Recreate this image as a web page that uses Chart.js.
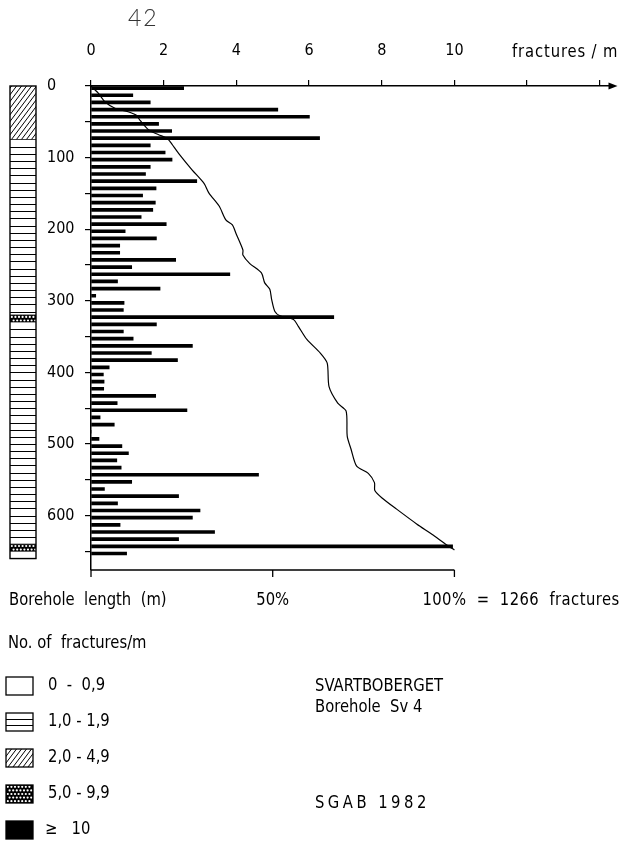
<!DOCTYPE html>
<html>
<head>
<meta charset="utf-8">
<title>Svartboberget Borehole Sv 4</title>
<script src="https://cdn.jsdelivr.net/npm/chart.js@4.4.0/dist/chart.umd.min.js"></script>
<style>
    html, body { margin: 0; padding: 0; background: #fff; }
    #wrap { width: 630px; height: 846px; }
</style>
</head>
<body>
<div id="wrap"><canvas id="FractureChart" width="630" height="846"></canvas></div>
<script>
// borehole length (m), middle of each 10 m section
const depthMid = [5, 15, 25, 35, 45, 55, 65, 75, 85, 95,
    105, 115, 125, 135, 145, 155, 165, 175, 185, 195,
    205, 215, 225, 235, 245, 255, 265, 275, 285, 295,
    305, 315, 325, 335, 345, 355, 365, 375, 385, 395,
    405, 415, 425, 435, 445, 455, 465, 475, 485, 495,
    505, 515, 525, 535, 545, 555, 565, 575, 585, 595,
    605, 615, 625, 635, 645, 655];

// fractures / m in each section
const fracPerM = [2.55, 1.15, 1.63, 5.14, 6.01, 1.86, 2.22, 6.29, 1.63, 2.04,
    2.23, 1.63, 1.50, 2.91, 1.79, 1.42, 1.77, 1.70, 1.38, 2.07,
    0.94, 1.80, 0.79, 0.79, 2.33, 1.12, 3.82, 0.73, 1.90, 0.13,
    0.91, 0.89, 6.68, 1.80, 0.89, 1.16, 2.79, 1.66, 2.38, 0.50,
    0.34, 0.36, 0.35, 1.78, 0.72, 2.64, 0.25, 0.64, 0.00, 0.22,
    0.85, 1.03, 0.71, 0.83, 4.61, 1.12, 0.37, 2.41, 0.73, 3.00,
    2.79, 0.80, 3.40, 2.41, 9.95, 0.98];

// cumulative curve
const cumDepth = [0, 10, 22, 31, 36, 41, 48, 61, 68, 73, 78, 94, 117, 136, 150, 168, 187, 194, 206,
    229, 236, 248, 261, 275, 284, 298, 315, 321, 326, 336, 354, 373, 387, 420, 443, 454, 489,
    508, 531, 541, 554, 565, 575, 591, 612, 626, 641, 648];
const cumPercent = [0, 2.0, 3.8, 6.6, 10.2, 12.5, 13.5, 15.8, 18.6, 20.9, 21.8, 24.1, 27.8, 31.1, 32.5, 35.3, 37.1, 38.9, 39.9,
    41.8, 41.8, 43.7, 46.9, 47.8, 49.2, 49.7, 50.6, 52.0, 55.7, 57.1, 59.4, 63.1, 65.0, 65.5, 67.9, 70.2, 70.5,
    71.6, 73.1, 76.3, 78.0, 78.1, 80.0, 84.1, 89.7, 93.8, 97.9, 100];

// core log column: class 0..4 = 0-0,9 / 1,0-1,9 / 2,0-4,9 / 5,0-9,9 / >=10
const logTop = [0, 75, 320, 330, 640, 650];
const logBottom = [75, 320, 330, 640, 650, 660];
const logClass = [2, 1, 3, 1, 3, 1];

const legendLabels = ['0  -  0,9', '1,0 - 1,9', '2,0 - 4,9', '5,0 - 9,9', '\u2265   10'];
const pctTicks = [0, 50, 100];
const totalFractures = 1266;
const X_MAX = 14.35;

const FONT = '"DejaVu Sans", sans-serif';
const TICK_FONT = '"Liberation Sans Narrow", "DejaVu Sans Condensed", "DejaVu Sans", sans-serif';

function txt(ctx, s, x, y, opt) {
    opt = opt || {};
    ctx.save();
    ctx.font = opt.font || ('17px ' + FONT);
    ctx.fillStyle = opt.color || '#000';
    ctx.textBaseline = 'middle';
    ctx.textAlign = 'left';
    if ('letterSpacing' in ctx) ctx.letterSpacing = (opt.spacing || 0) + 'px';
    const sx = opt.sx || 0.87;
    const w = ctx.measureText(s).width * sx;
    let left = x;
    if (opt.align === 'center') left = x - w / 2;
    if (opt.align === 'right') left = x - w;
    ctx.translate(left, y);
    ctx.scale(sx, 1);
    ctx.fillText(s, 0, 0);
    ctx.restore();
}

function fillClass(ctx, cls, x, y, w, h, stripeYs) {
    ctx.save();
    ctx.beginPath();
    ctx.rect(x, y, w, h);
    ctx.clip();
    ctx.fillStyle = cls >= 3 ? '#000' : '#fff';
    ctx.fillRect(x, y, w, h);
    ctx.strokeStyle = '#000';
    ctx.lineWidth = 1;
    if (cls === 1) {
        ctx.beginPath();
        stripeYs.forEach(yy => { ctx.moveTo(x, yy); ctx.lineTo(x + w, yy); });
        ctx.stroke();
    }
    if (cls === 2) {
        ctx.beginPath();
        for (let k = -h; k < w + h; k += 5) {
            ctx.moveTo(x + k, y + h);
            ctx.lineTo(x + k + h * 0.75, y);
        }
        ctx.stroke();
    }
    if (cls === 3) {
        ctx.fillStyle = '#fff';
        let r = 0;
        for (let yy = y + 1.8; yy < y + h; yy += 3.6, r++) {
            for (let xx = x + (r % 2 ? 3.6 : 1.8); xx < x + w; xx += 3.6) {
                ctx.beginPath();
                ctx.arc(xx, yy, 1.1, 0, Math.PI * 2);
                ctx.fill();
            }
        }
    }
    ctx.restore();
}

const extrasPlugin = {
    id: 'extras',
    afterDraw(chart) {
        const ctx = chart.ctx;
        const ca = chart.chartArea;
        const ys = chart.scales.y;
        const x2 = chart.scales.x2;

        // arrow on the fractures axis
        ctx.save();
        ctx.fillStyle = '#000';
        ctx.beginPath();
        ctx.moveTo(ca.right + 5, ca.top);
        ctx.lineTo(ca.right - 4, ca.top - 3.5);
        ctx.lineTo(ca.right - 4, ca.top + 3.5);
        ctx.closePath();
        ctx.fill();
        ctx.restore();

        txt(ctx, 'fractures / m', 512, 53, { spacing: 1 });
        txt(ctx, '42', 128, 19, { font: '300 23px Lato, ' + FONT, color: '#333', sx: 1, spacing: 2 });

        // core log column
        const lx = 10, lw = 26;
        ctx.save();
        for (let i = 0; i < logTop.length; i++) {
            const yt = ys.getPixelForValue(logTop[i]);
            const yb = ys.getPixelForValue(logBottom[i]);
            const stripes = [];
            for (let d = logTop[i] + 10; d < logBottom[i]; d += 10) stripes.push(Math.round(ys.getPixelForValue(d)) + 0.5);
            fillClass(ctx, logClass[i], lx, yt, lw, yb - yt, stripes);
            ctx.strokeStyle = '#000';
            ctx.lineWidth = 1;
            ctx.beginPath();
            ctx.moveTo(lx, yb);
            ctx.lineTo(lx + lw, yb);
            ctx.stroke();
        }
        const top = ys.getPixelForValue(logTop[0]);
        const bot = ys.getPixelForValue(logBottom[logBottom.length - 1]);
        ctx.lineWidth = 1.4;
        ctx.strokeRect(lx, top, lw, bot - top);
        ctx.restore();

        // percentage axis
        const yb = ca.bottom;
        ctx.save();
        ctx.strokeStyle = '#000';
        ctx.lineWidth = 1.3;
        ctx.beginPath();
        ctx.moveTo(x2.getPixelForValue(pctTicks[0]), yb);
        ctx.lineTo(x2.getPixelForValue(pctTicks[pctTicks.length - 1]), yb);
        pctTicks.forEach(p => {
            const px = x2.getPixelForValue(p);
            ctx.moveTo(px, yb);
            ctx.lineTo(px, yb + 7);
        });
        ctx.stroke();
        ctx.restore();

        txt(ctx, 'Borehole  length  (m)', 9, 601);
        txt(ctx, '50%', x2.getPixelForValue(50), 601, { align: 'center' });
        txt(ctx, '100%  =  ' + totalFractures + '  fractures', x2.getPixelForValue(100) - 32, 601, { spacing: 0.5 });

        // legend
        txt(ctx, 'No. of  fractures/m', 8, 644);
        const boxY = [677, 713, 749, 785, 821];
        for (let i = 0; i < legendLabels.length; i++) {
            const by = boxY[i];
            const stripes = [Math.round(by + 6) + 0.5, Math.round(by + 12) + 0.5];
            fillClass(ctx, i, 6, by, 27, 18, stripes);
            ctx.save();
            ctx.strokeStyle = '#000';
            ctx.lineWidth = 1.3;
            ctx.strokeRect(6, by, 27, 18);
            ctx.restore();
            txt(ctx, legendLabels[i], i === 4 ? 45 : 48, by + 9);
        }

        txt(ctx, 'SVARTBOBERGET', 315, 687);
        txt(ctx, 'Borehole  Sv 4', 315, 708);
        txt(ctx, 'SGAB 1982', 315, 804, { spacing: 4 });
    }
};

const data_Frac = {
    datasets: [{
        type: 'bar',
        indexAxis: 'y',
        data: depthMid.map((d, i) => ({ x: fracPerM[i], y: d })),
        backgroundColor: '#000',
        borderWidth: 0,
        barThickness: 3,
        xAxisID: 'x',
        yAxisID: 'y'
    }, {
        type: 'line',
        data: cumDepth.map((d, i) => ({ x: cumPercent[i], y: d })),
        borderColor: '#000',
        borderWidth: 1.2,
        pointRadius: 0,
        fill: false,
        tension: 0.25,
        xAxisID: 'x2',
        yAxisID: 'y'
    }]
};

const config_Frac = {
    type: 'bar',
    data: data_Frac,
    options: {
        responsive: false,
        animation: false,
        devicePixelRatio: 1,
        layout: {
            padding: { left: 47, right: 17.5, top: 0, bottom: 276 }
        },
        scales: {
            x: {
                type: 'linear',
                position: 'top',
                offset: false,
                min: 0,
                max: X_MAX,
                afterFit: (s) => { s.height = 86; },
                grid: { offset: false, drawOnChartArea: false, drawTicks: true, tickLength: 6, color: '#000', lineWidth: 1.2 },
                border: { display: true, color: '#000', width: 1.5 },
                ticks: {
                    stepSize: 2,
                    includeBounds: false,
                    padding: 20,
                    color: '#000',
                    font: { family: TICK_FONT, size: 16 },
                    maxRotation: 0,
                    callback: (v) => (v <= 10 ? v : '')
                }
            },
            x2: {
                type: 'linear',
                axis: 'x',
                position: 'bottom',
                display: false,
                offset: false,
                min: 0,
                max: X_MAX * 10
            },
            y: {
                type: 'linear',
                reverse: true,
                offset: false,
                min: 0,
                max: 676,
                afterFit: (s) => { s.width = 44; },
                grid: { offset: false, drawOnChartArea: false, drawTicks: true, tickLength: 6, color: '#000', lineWidth: 1.2 },
                border: { display: true, color: '#000', width: 1.5 },
                ticks: {
                    stepSize: 50,
                    includeBounds: false,
                    crossAlign: 'far',
                    color: '#000',
                    font: { family: TICK_FONT, size: 16 },
                    callback: (v) => (v % 100 === 0 ? v : '')
                }
            }
        },
        plugins: {
            legend: { display: false },
            title: { display: false },
            tooltip: { enabled: false }
        }
    },
    plugins: [extrasPlugin]
};

const myChart_Frac = new Chart(
    document.getElementById('FractureChart'),
    config_Frac
);
</script>
</body>
</html>
